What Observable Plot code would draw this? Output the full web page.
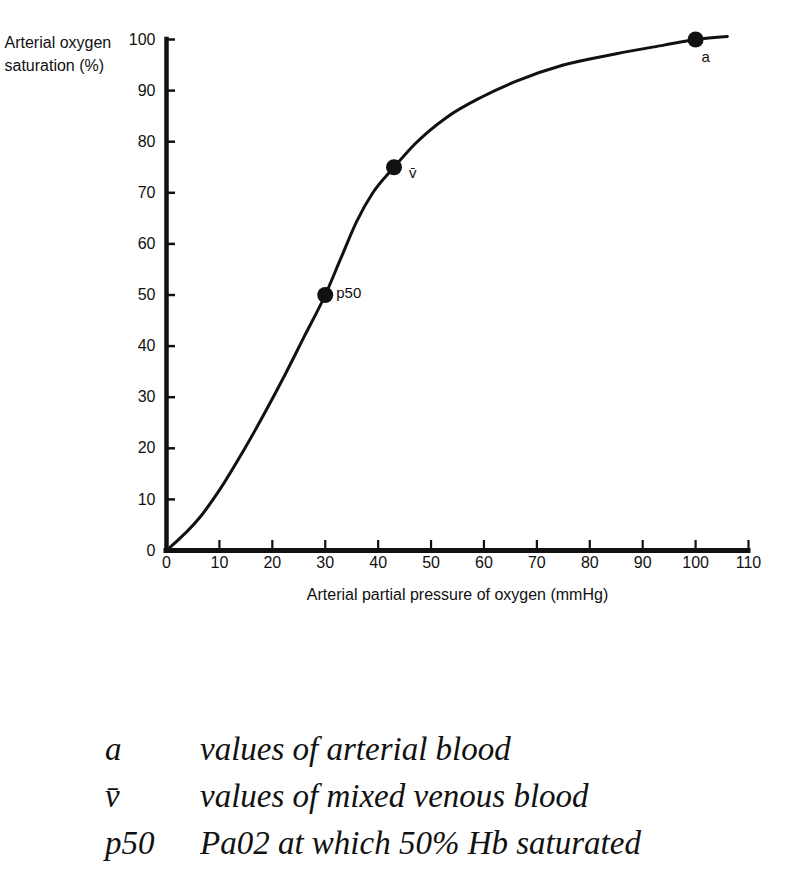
<!DOCTYPE html>
<html>
<head>
<meta charset="utf-8">
<script src="https://cdn.jsdelivr.net/npm/d3@7"></script>
<script src="https://cdn.jsdelivr.net/npm/@observablehq/plot@0.6"></script>
<style>
  html, body { margin: 0; padding: 0; background: #fff; }
  #wrap { position: relative; width: 800px; height: 888px; overflow: hidden; }
  #legend { position: absolute; left: 0; top: 726px; font-family: "Liberation Serif", "Times New Roman", serif; font-style: italic; font-size: 33px; line-height: 47px; color: #111; }
  #legend .row { white-space: nowrap; }
  #legend .k { display: inline-block; width: 95px; padding-left: 105px; }
</style>
</head>
<body>
<div id="wrap">
  <div id="chart"></div>
  <div id="legend"></div>
</div>
<script>
// Oxygen–haemoglobin dissociation curve
const pressure   = [0, 6.4, 10, 14.3, 18.5, 22, 26, 30, 33, 36, 39, 43, 47, 53, 59.5, 66, 75, 85, 94, 100, 106];
const saturation = [0, 6.6, 11.8, 19.1, 26.8, 33.6, 41.8, 50, 57.3, 64.5, 70, 75, 79.6, 84.8, 88.7, 91.8, 95, 97.2, 98.9, 100, 100.6];

// Marked points
const markerNames = ["a", "v\u0304", "p50"];
const markerX = [100, 43, 30];
const markerY = [100, 75, 50];

// Axis ticks
const xTicks = [0, 10, 20, 30, 40, 50, 60, 70, 80, 90, 100, 110];
const yTicks = [0, 10, 20, 30, 40, 50, 60, 70, 80, 90, 100];

// Legend
const legendKeys = ["a", "v\u0304", "p50"];
const legendTexts = ["values of arterial blood", "values of mixed venous blood", "Pa02 at which 50% Hb saturated"];

const curve = pressure.map((p, i) => ({p, s: saturation[i]}));
const markers = markerNames.map((n, i) => ({n, x: markerX[i], y: markerY[i]}));
const byName = n => markers.filter(d => d.n === n);

const chart = Plot.plot({
  width: 800,
  height: 620,
  marginLeft: 166,
  marginRight: 52,
  marginTop: 39,
  marginBottom: 70,
  x: {domain: [0, 110]},
  y: {domain: [0, 100]},
  style: {fontFamily: "'Liberation Sans', Arial, sans-serif", fontSize: "16px", color: "#111", background: "#fff", overflow: "visible"},
  marks: [
    Plot.axisX({ticks: xTicks, tickSize: 0, tickPadding: 6, label: null, fontSize: 16, tickFormat: d => String(d)}),
    Plot.axisY({ticks: yTicks, tickSize: 0, tickPadding: 11, label: null, fontSize: 16, tickFormat: d => String(d)}),
    // inward tick marks
    Plot.ruleX(xTicks.slice(1), {x: d => d, y1: 0, y2: 0, insetTop: 0, insetBottom: 10, stroke: "#111", strokeWidth: 2.2}),
    Plot.ruleY(yTicks.slice(1), {y: d => d, x1: 0, x2: 0, insetLeft: 0, insetRight: -9, stroke: "#111", strokeWidth: 2.5}),
    // axis lines
    Plot.ruleY([0], {stroke: "#111", strokeWidth: 5, strokeLinecap: "square"}),
    Plot.ruleX([0], {stroke: "#111", strokeWidth: 4.5, strokeLinecap: "square"}),
    // curve
    Plot.line(curve, {x: "p", y: "s", curve: "monotone-x", stroke: "#111", strokeWidth: 3}),
    Plot.dot(markers, {x: "x", y: "y", r: 8, fill: "#111", stroke: "none"}),
    Plot.text(byName("p50"), {x: "x", y: "y", text: "n", dx: 11, dy: -2, textAnchor: "start", fontSize: 15}),
    Plot.text(byName("v\u0304"), {x: "x", y: "y", text: "n", dx: 15, dy: 6, textAnchor: "start", fontSize: 15}),
    Plot.text(byName("a"), {x: "x", y: "y", text: "n", dx: 6, dy: 18, textAnchor: "start", fontSize: 15}),
    // axis titles
    Plot.text(["Arterial partial pressure of oxygen (mmHg)"], {frameAnchor: "bottom", dy: 49, fontSize: 16}),
    Plot.text(["Arterial oxygen\nsaturation (%)"], {frameAnchor: "top-left", dx: -162, dy: -7, textAnchor: "start", lineAnchor: "top", lineHeight: 1.4, fontSize: 16})
  ]
});
document.getElementById("chart").appendChild(chart);

const legend = document.getElementById("legend");
legendKeys.forEach((k, i) => {
  const row = document.createElement("div");
  row.className = "row";
  const a = document.createElement("span");
  a.className = "k";
  a.textContent = k;
  const b = document.createElement("span");
  b.textContent = legendTexts[i];
  row.appendChild(a);
  row.appendChild(b);
  legend.appendChild(row);
});
</script>
</body>
</html>
